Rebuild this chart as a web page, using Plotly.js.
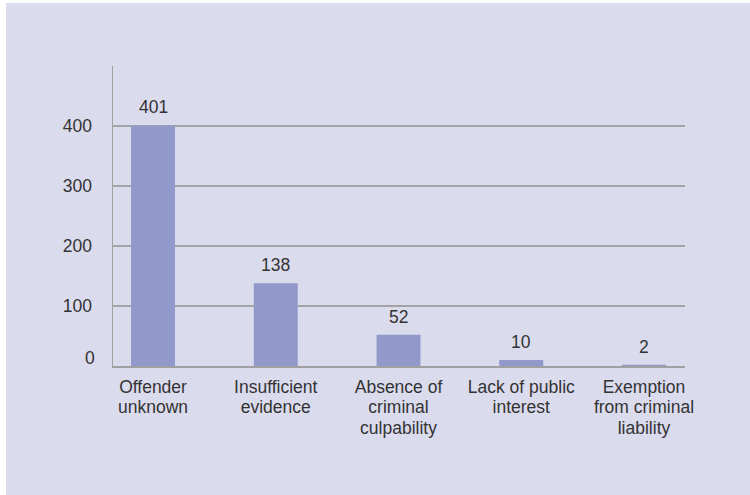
<!DOCTYPE html>
<html>
<head>
<meta charset="utf-8">
<script src="https://cdn.plot.ly/plotly-3.0.1.min.js"></script>
<style>
html,body{margin:0;padding:0;background:#ffffff;}
#chart{position:absolute;left:6px;top:3px;width:744px;height:492px;}
</style>
</head>
<body>
<div id="chart"></div>
<script>
var categories = ["Offender<br>unknown", "Insufficient<br>evidence", "Absence of<br>criminal<br>culpability", "Lack of public<br>interest", "Exemption<br>from criminal<br>liability"];
var values = [401, 138, 52, 10, 2];
var yTickVals = [0, 100, 200, 300, 400, 500];
var yTickText = ["0", "100", "200", "300", "400", ""];

var font = "Liberation Sans, Arial, Helvetica, sans-serif";
var textColor = "#333333";
var xIdx = categories.map(function(c, i){ return i; });

var annotations = values.map(function(v, i){
  return {x: i, y: v, xref: 'x', yref: 'y', text: String(v), showarrow: false,
          yanchor: 'bottom', yshift: 6, font: {family: font, size: 17.5, color: textColor}};
});
// the zero label sits slightly above the baseline in the reference
annotations.push({x: 0, y: yTickVals[0], xref: 'paper', yref: 'y', text: yTickText[0],
  showarrow: false, xanchor: 'right', yanchor: 'middle', xshift: -16, yshift: 8,
  font: {family: font, size: 17.5, color: textColor}});
var yTickTextShown = yTickText.map(function(t, i){ return i === 0 ? '' : t; });

var trace = {
  type: 'bar', x: xIdx, y: values, width: 0.358,
  marker: {color: '#9199cb'}, hoverinfo: 'none'
};

var layout = {
  width: 744, height: 492,
  paper_bgcolor: '#dbdbee', plot_bgcolor: '#dbdbee',
  margin: {l: 107, r: 65, t: 63, b: 129},
  showlegend: false,
  font: {family: font, size: 17.5, color: textColor},
  xaxis: {
    range: [-0.326, 4.334], tickvals: xIdx, ticktext: categories,
    showgrid: false, zeroline: false, showline: true, linecolor: '#a0a0a0', linewidth: 1.5,
    ticks: '', ticklabelstandoff: 4,
    tickfont: {family: font, size: 17.5, color: textColor}, fixedrange: true
  },
  yaxis: {
    range: [0, 500], tickvals: yTickVals, ticktext: yTickTextShown,
    showgrid: true, gridcolor: '#a3a3a3', gridwidth: 1.2, zeroline: false,
    showline: true, linecolor: '#a0a0a0', linewidth: 1.5, ticks: '',
    ticklabelstandoff: 16,
    tickfont: {family: font, size: 17.5, color: textColor}, fixedrange: true
  },
  annotations: annotations
};

Plotly.newPlot('chart', [trace], layout, {displayModeBar: false, staticPlot: true}).then(function(gd){
  var spans = gd.querySelectorAll('.xtick text tspan.line');
  spans.forEach(function(s){
    var dy = s.getAttribute('dy');
    var v = parseFloat(dy);
    if (dy && /em$/.test(dy) && v > 0) { s.setAttribute('dy', (v * 1.18 / 1.3).toFixed(3) + 'em'); }
  });
});
</script>
</body>
</html>
